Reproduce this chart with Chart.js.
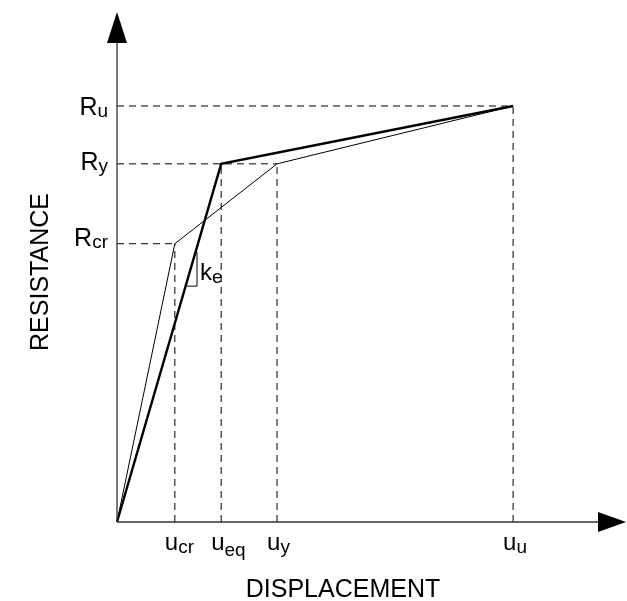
<!DOCTYPE html>
<html>
<head>
<meta charset="utf-8">
<script src="https://cdn.jsdelivr.net/npm/chart.js@4/dist/chart.umd.min.js"></script>
<style>
  html, body { margin: 0; padding: 0; background: #fff; }
  #wrap { width: 627px; height: 601px; }
</style>
</head>
<body>
<div id="wrap"><canvas id="canvas"></canvas></div>
<script>
// displacement marks: u_cr, u_eq, u_y, u_u
const dispSubs = ['cr', 'eq', 'y', 'u'];
const disp = [1.46, 2.63, 4.04, 10];
// resistance marks: R_cr, R_y, R_u
const resSubs = ['cr', 'y', 'u'];
const res = [6.69, 8.61, 10];

// trilinear (thin) and bilinear (thick) curves
const thinX = [0, 1.46, 4.04, 10];
const thinY = [0, 6.69, 8.61, 10];
const thickX = [0, 2.63, 10];
const thickY = [0, 8.61, 10];

// little slope triangle for k_e
const triX = [1.77, 2.02, 2.02];
const triY = [5.67, 5.67, 6.49];

const xMax = 12.85;
const yMax = 12.26;

const pts = (xs, ys) => xs.map((x, i) => ({ x: x, y: ys[i] }));

const guide = (data) => ({
  data: data,
  showLine: true,
  borderColor: '#000',
  borderWidth: 1,
  borderDash: [7, 5],
  pointRadius: 0,
  fill: false,
  clip: false
});

// dashed guides from the axes to each point
const guides = [
  pts([0, disp[0]], [res[0], res[0]]),
  pts([disp[0], disp[0]], [0, res[0]]),
  pts([0, disp[2]], [res[1], res[1]]),
  pts([disp[1], disp[1]], [0, res[1]]),
  pts([disp[2], disp[2]], [0, res[1]]),
  pts([0, disp[3]], [res[2], res[2]]),
  pts([disp[3], disp[3]], [0, res[2]])
].map(guide);

const font = (size) => size + 'px "Liberation Sans", Arial, sans-serif';

// text with a subscript, x is the left edge
function subText(ctx, main, sub, x, y, size, subSize, drop) {
  ctx.font = font(size);
  ctx.fillText(main, x, y);
  const w = ctx.measureText(main).width;
  ctx.font = font(subSize);
  ctx.fillText(sub, x + w, y + drop);
}

function subWidth(ctx, main, sub, size, subSize) {
  ctx.font = font(size);
  let w = ctx.measureText(main).width;
  ctx.font = font(subSize);
  return w + ctx.measureText(sub).width;
}

const decor = {
  id: 'decor',
  afterDatasetsDraw(chart) {
    const ctx = chart.ctx;
    const xs = chart.scales.x, ys = chart.scales.y;
    const x0 = xs.getPixelForValue(0), y0 = ys.getPixelForValue(0);
    const xEnd = xs.getPixelForValue(xMax), yEnd = ys.getPixelForValue(yMax);
    ctx.save();

    // axes with arrow heads
    ctx.strokeStyle = '#333';
    ctx.lineWidth = 1.3;
    ctx.beginPath();
    ctx.moveTo(x0, y0);
    ctx.lineTo(xEnd - 20, y0);
    ctx.moveTo(x0, y0);
    ctx.lineTo(x0, yEnd + 20);
    ctx.stroke();
    ctx.fillStyle = '#000';
    ctx.beginPath();
    ctx.moveTo(xEnd, y0);
    ctx.lineTo(xEnd - 28, y0 - 10);
    ctx.lineTo(xEnd - 28, y0 + 10);
    ctx.closePath();
    ctx.fill();
    ctx.beginPath();
    ctx.moveTo(x0, yEnd);
    ctx.lineTo(x0 - 10, yEnd + 31);
    ctx.lineTo(x0 + 10, yEnd + 31);
    ctx.closePath();
    ctx.fill();

    ctx.fillStyle = '#000';
    ctx.textAlign = 'left';
    ctx.textBaseline = 'alphabetic';

    // displacement tick labels
    disp.forEach((v, i) => {
      const px = xs.getPixelForValue(v);
      const drop = dispSubs[i] === 'eq' ? 6 : 3;
      subText(ctx, 'u', dispSubs[i], px - 10, y0 + 28, 24, 19, drop);
    });

    // resistance tick labels (right aligned)
    const rDy = [2, 6, 9];
    res.forEach((v, i) => {
      const py = ys.getPixelForValue(v);
      const w = subWidth(ctx, 'R', resSubs[i], 25, 19);
      subText(ctx, 'R', resSubs[i], x0 - 9 - w, py + rDy[i], 25, 19, 2);
    });

    // k_e next to the triangle
    const kx = xs.getPixelForValue(triX[1]) + 3;
    const ky = ys.getPixelForValue(triY[0]) - 6;
    subText(ctx, 'k', 'e', kx, ky, 24, 19, 3);

    // axis titles
    ctx.font = font(25);
    ctx.textAlign = 'center';
    ctx.fillText('DISPLACEMENT', 343, 597);
    ctx.translate(48, 272);
    ctx.rotate(-Math.PI / 2);
    ctx.fillText('RESISTANCE', 0, 0);
    ctx.restore();
  }
};

new Chart(document.getElementById('canvas'), {
  type: 'scatter',
  data: {
    datasets: guides.concat([
      {
        data: pts(thinX, thinY),
        showLine: true,
        borderColor: '#000',
        borderWidth: 1,
        pointRadius: 0,
        clip: false
      },
      {
        data: pts(thickX, thickY),
        showLine: true,
        borderColor: '#000',
        borderWidth: 2.4,
        pointRadius: 0,
        clip: false
      },
      {
        data: pts(triX, triY),
        showLine: true,
        borderColor: '#000',
        borderWidth: 1,
        pointRadius: 0,
        clip: false
      }
    ])
  },
  options: {
    responsive: true,
    maintainAspectRatio: false,
    animation: false,
    layout: { padding: { left: 117, right: 1, top: 12, bottom: 79 } },
    plugins: { legend: { display: false }, tooltip: { enabled: false } },
    scales: {
      x: { type: 'linear', display: false, min: 0, max: xMax },
      y: { type: 'linear', display: false, min: 0, max: yMax }
    }
  },
  plugins: [decor]
});
</script>
</body>
</html>
